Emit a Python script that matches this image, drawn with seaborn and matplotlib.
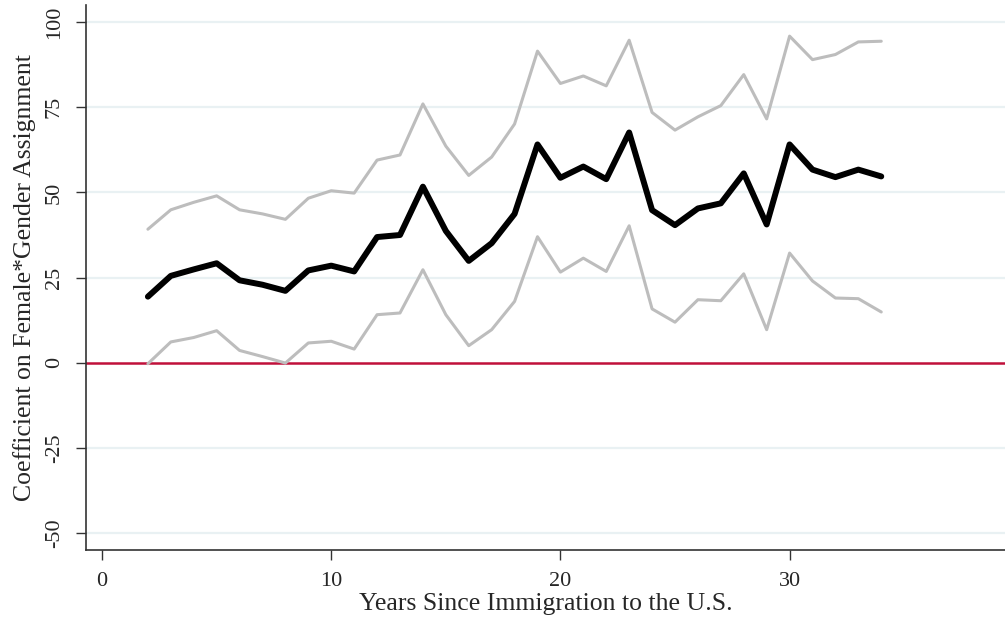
import numpy as np
import pandas as pd
import matplotlib.pyplot as plt
import seaborn as sns

sns.set_theme(style="white")
plt.rcParams['font.family'] = ['Liberation Serif', 'DejaVu Serif']

# years since immigration
years = list(range(2, 35))

# point estimate
coef = [19.4, 25.5, 27.4, 29.2, 24.2, 22.9, 21.1, 27.1, 28.5, 26.8, 36.9, 37.5,
        51.7, 38.7, 29.9, 35.1, 43.7, 64.1, 54.3, 57.6, 53.9, 67.6, 44.8, 40.4,
        45.3, 46.8, 55.6, 40.6, 64.1, 56.7, 54.5, 56.7, 54.7]

# upper / lower confidence bounds
upper = [39.2, 44.9, 47.1, 49.0, 44.9, 43.7, 42.1, 48.3, 50.5, 49.8, 59.5, 61.0,
         76.0, 63.6, 55.0, 60.4, 70.1, 91.5, 82.0, 84.2, 81.3, 94.7, 73.5, 68.3,
         72.2, 75.5, 84.6, 71.6, 95.9, 89.0, 90.5, 94.2, 94.4]
lower = [-0.3, 6.1, 7.4, 9.4, 3.6, 1.8, -0.1, 5.8, 6.3, 4.0, 14.1, 14.6,
         27.3, 14.1, 5.0, 9.7, 18.0, 37.0, 26.6, 30.7, 26.8, 40.2, 15.8, 11.9,
         18.5, 18.2, 26.1, 9.7, 32.2, 24.0, 19.0, 18.8, 14.9]

yticks = [-50, -25, 0, 25, 50, 75, 100]
xticks = [0, 10, 20, 30]

df = pd.DataFrame({'years': years, 'coef': coef, 'upper': upper, 'lower': lower})

fig = plt.figure(figsize=(10.05, 6.27), dpi=100)
ax = fig.add_axes([0.0856, 0.1228, 0.9144, 0.869])

for y in yticks:
    if y != 0:
        ax.axhline(y, color='#e9f1f3', linewidth=1.6, zorder=0)
ax.axhline(0, color='#c0103a', linewidth=1.8, zorder=1)

sns.lineplot(data=df, x='years', y='upper', color='#bdbdbd', linewidth=2.2, ax=ax, zorder=2)
sns.lineplot(data=df, x='years', y='lower', color='#bdbdbd', linewidth=2.2, ax=ax, zorder=2)
sns.lineplot(data=df, x='years', y='coef', color='black', linewidth=4.3, ax=ax, zorder=3)

ax.set_xlim(-0.7, 39.4)
ax.set_ylim(-55, 105)
ax.set_xticks(xticks)
ax.set_yticks(yticks)
ax.set_yticklabels([str(v) for v in yticks], rotation=90, va='center')

ax.set_xlabel('Years Since Immigration to the U.S.', fontsize=18.5, labelpad=1)
ax.set_ylabel('Coefficient on Female*Gender Assignment', fontsize=18.5, labelpad=6)

ax.tick_params(axis='both', which='major', direction='out', length=7, width=1,
               color='#333333', labelsize=16, left=True, bottom=True, pad=9)
for side in ['top', 'right']:
    ax.spines[side].set_visible(False)
for side in ['left', 'bottom']:
    ax.spines[side].set_color('#333333')
    ax.spines[side].set_linewidth(1.2)

fig.savefig('out.png', dpi=100)
